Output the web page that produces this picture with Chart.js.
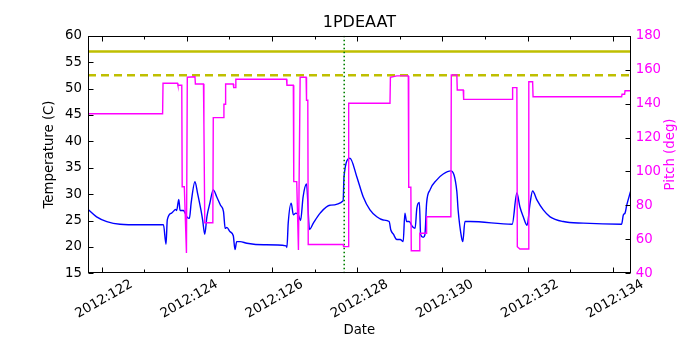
<!DOCTYPE html>
<html>
<head>
<meta charset="utf-8">
<script src="https://cdn.jsdelivr.net/npm/chart.js@4"></script>
<style>
  html, body { margin: 0; padding: 0; background: #fff; }
  #wrap { width: 700px; height: 350px; }
</style>
</head>
<body>
<div id="wrap"><canvas id="c" width="700" height="350"></canvas></div>
<script>
// ---------- data (day of year 2012) ----------
const xMin = 121.678;
const xMax = 134.423;
const xTickDays = [122, 123, 124, 125, 126, 127, 128, 129, 130, 131, 132, 133, 134];
const xTickLabels = ['2012:122', '', '2012:124', '', '2012:126', '', '2012:128', '', '2012:130', '', '2012:132', '', '2012:134'];
const tempTicks = [15, 20, 25, 30, 35, 40, 45, 50, 55, 60];
const pitchTicks = [40, 60, 80, 100, 120, 140, 160, 180];

const tempDays = [121.68, 121.88, 122.12, 122.43, 122.9, 123.45, 123.51, 123.54, 123.64, 123.74, 123.76, 123.81, 123.84, 123.92, 123.96, 124.0, 124.06, 124.1, 124.19, 124.25, 124.33, 124.37, 124.42, 124.47, 124.54, 124.62, 124.7, 124.79, 124.86, 124.9, 124.94, 125.01, 125.09, 125.13, 125.17, 125.25, 125.41, 125.8, 126.33, 126.35, 126.38, 126.45, 126.5, 126.56, 126.62, 126.67, 126.73, 126.81, 126.88, 126.97, 127.13, 127.36, 127.67, 127.69, 127.83, 127.99, 128.14, 128.3, 128.46, 128.61, 128.75, 128.79, 128.85, 128.93, 129.01, 129.08, 129.12, 129.16, 129.22, 129.3, 129.36, 129.4, 129.46, 129.49, 129.55, 129.59, 129.63, 129.71, 129.87, 130.02, 130.2, 130.34, 130.37, 130.45, 130.48, 130.53, 130.65, 131.64, 131.75, 131.82, 131.9, 131.99, 132.06, 132.12, 132.22, 132.37, 132.53, 132.84, 133.31, 134.21, 134.25, 134.29, 134.33, 134.42];
const tempValues = [27.1, 25.7, 24.8, 24.3, 24.2, 24.2, 20.5, 25.1, 26.4, 27.1, 26.9, 29.0, 26.9, 26.9, 26.4, 25.7, 25.4, 28.3, 32.35, 30.2, 27.0, 25.1, 22.4, 25.7, 28.3, 30.8, 29.5, 27.9, 26.7, 23.5, 23.7, 22.9, 22.1, 19.5, 21.0, 21.0, 20.7, 20.4, 20.2, 19.9, 24.5, 28.3, 26.1, 26.4, 26.0, 25.0, 29.5, 31.9, 23.3, 24.5, 26.4, 27.9, 28.75, 33.3, 36.8, 33.3, 29.5, 27.0, 25.7, 25.1, 24.8, 23.2, 22.4, 21.4, 21.4, 21.0, 26.4, 24.8, 24.8, 23.8, 23.5, 27.3, 28.4, 22.3, 21.8, 22.3, 28.3, 30.8, 32.7, 33.8, 34.4, 30.5, 27.0, 21.8, 21.0, 24.8, 24.8, 24.3, 30.2, 27.6, 25.7, 24.1, 28.3, 30.6, 28.9, 27.0, 25.7, 24.8, 24.5, 24.3, 26.05, 26.4, 27.9, 30.5];

const pitchDays = [121.68, 123.43, 123.44, 123.78, 123.79, 123.88, 123.89, 123.94, 123.99, 124.01, 124.19, 124.2, 124.39, 124.4, 124.42, 124.61, 124.62, 124.86, 124.87, 124.9, 124.91, 125.09, 125.1, 125.14, 125.15, 126.34, 126.35, 126.5, 126.51, 126.58, 126.62, 126.66, 126.8, 126.81, 126.84, 126.85, 127.67, 127.68, 127.79, 127.8, 128.77, 128.78, 128.93, 129.2, 129.21, 129.26, 129.27, 129.46, 129.47, 129.62, 129.63, 130.2, 130.21, 130.34, 130.35, 130.49, 130.5, 131.64, 131.65, 131.75, 131.76, 131.82, 132.02, 132.03, 132.12, 132.13, 134.21, 134.22, 134.28, 134.29, 134.42];
const pitchValues = [134, 134, 152, 152, 150.8, 150.8, 91, 91, 52, 155.5, 155.8, 151.5, 151.5, 128, 69.8, 69.8, 131.7, 131.7, 139.6, 139.6, 151.5, 151.5, 149.4, 149.4, 154.3, 154.3, 150.8, 150.8, 94, 94, 53.7, 155.5, 155.5, 142, 142, 57, 57, 55.7, 55.7, 140.2, 140.2, 155.5, 156.3, 156.3, 90.7, 90.7, 53.3, 53.3, 63.6, 63.6, 73.3, 73.3, 156.8, 156.8, 148, 148, 142.5, 142.5, 149.4, 149.4, 55.7, 54.3, 54.3, 152.9, 152.9, 144, 144, 145.5, 145.5, 147.6, 147.6];

const tempLimitHigh = 57;
const tempLimitLow = 52.5;
const markerDay = 127.695;

// ---------- build ----------
const zip = (xs, ys) => xs.map((x, i) => ({ x: x, y: ys[i] }));
const FONT = 'DejaVu Sans';
Chart.defaults.font.family = FONT;
Chart.defaults.font.size = 13.3;
Chart.defaults.color = '#000';

const frameTicks = {
  id: 'frameTicks',
  afterDraw(chart) {
    const { ctx, chartArea: a, scales } = chart;
    ctx.save();
    ctx.strokeStyle = '#000';
    ctx.lineWidth = 1;
    const L = Math.round(a.left) + 0.5, R = Math.round(a.right) - 0.5;
    const T = Math.round(a.top) + 0.5, B = Math.round(a.bottom) - 0.5;
    ctx.beginPath();
    scales.x.ticks.forEach((t, i) => {
      const px = Math.round(scales.x.getPixelForValue(t.value)) + 0.5;
      const len = xTickLabels[i] ? 5 : 3;
      ctx.moveTo(px, B); ctx.lineTo(px, B - len);
      ctx.moveTo(px, T); ctx.lineTo(px, T + len);
    });
    scales.y.ticks.forEach(t => {
      const py = Math.round(scales.y.getPixelForValue(t.value)) + 0.5;
      ctx.moveTo(L, py); ctx.lineTo(L + 5, py);
    });
    scales.y2.ticks.forEach(t => {
      const py = Math.round(scales.y2.getPixelForValue(t.value)) + 0.5;
      ctx.moveTo(R, py); ctx.lineTo(R - 5, py);
    });
    ctx.stroke();
    ctx.strokeRect(L, T, R - L, B - T);
    // right axis title (reads bottom-to-top)
    ctx.fillStyle = '#ff00ff';
    ctx.font = '13.3px "' + FONT + '"';
    ctx.textAlign = 'center';
    ctx.textBaseline = 'middle';
    ctx.translate(671, (a.top + a.bottom) / 2);
    ctx.rotate(-Math.PI / 2);
    ctx.fillText('Pitch (deg)', 0, 0);
    ctx.restore();
  }
};

new Chart(document.getElementById('c'), {
  type: 'line',
  data: {
    datasets: [
      { label: 'Pitch', data: zip(pitchDays, pitchValues), yAxisID: 'y2', borderColor: '#ff00ff', borderWidth: 1.4, pointRadius: 0, order: 0 },
      { label: 'Marker', data: [{ x: markerDay, y: 15 }, { x: markerDay, y: 60 }], yAxisID: 'y', borderColor: '#008000', borderWidth: 1.6, borderDash: [1.5, 2.5], pointRadius: 0, order: 1 },
      { label: 'Limit high', data: [{ x: xMin, y: tempLimitHigh }, { x: xMax, y: tempLimitHigh }], yAxisID: 'y', borderColor: '#bfbf00', borderWidth: 2.6, pointRadius: 0, order: 2 },
      { label: 'Limit low', data: [{ x: xMin, y: tempLimitLow }, { x: xMax, y: tempLimitLow }], yAxisID: 'y', borderColor: '#bfbf00', borderWidth: 2.6, borderDash: [8, 5], pointRadius: 0, order: 2 },
      { label: 'Temperature', data: zip(tempDays, tempValues), yAxisID: 'y', borderColor: '#0000ff', borderWidth: 1.4, pointRadius: 0, cubicInterpolationMode: 'monotone', order: 3 }
    ]
  },
  options: {
    responsive: false,
    animation: false,
    devicePixelRatio: 1,
    layout: { padding: 0 },
    plugins: {
      legend: { display: false },
      tooltip: { enabled: false },
      title: { display: true, text: '1PDEAAT', fullSize: false, color: '#000', font: { size: 16, weight: 'normal' }, padding: { top: 13, bottom: 3.5 } }
    },
    scales: {
      x: {
        type: 'linear', position: 'bottom', min: xMin, max: xMax,
        afterBuildTicks: s => { s.ticks = xTickDays.map(v => ({ value: v })); },
        ticks: { autoSkip: false, maxRotation: 30, minRotation: 30, labelOffset: 30, padding: 3, color: '#000',
                 callback: (v, i) => xTickLabels[i] },
        grid: { display: false, drawTicks: false },
        border: { display: false },
        title: { display: true, text: 'Date', color: '#000', padding: { top: 0, bottom: 11.2 } },
        afterFit: s => { s.height = 76.7; s.paddingLeft = 0; s.paddingRight = 0; }
      },
      y: {
        type: 'linear', position: 'left', min: 15, max: 60,
        afterBuildTicks: s => { s.ticks = tempTicks.map(v => ({ value: v })); },
        ticks: { padding: 6, color: '#000' },
        grid: { display: false, drawTicks: false },
        border: { display: false },
        title: { display: true, text: 'Temperature (C)', color: '#000', padding: { top: 41.5, bottom: 0 } },
        afterFit: s => { s.width = 88; s.paddingTop = 0; s.paddingBottom = 0; }
      },
      y2: {
        type: 'linear', position: 'right', min: 40, max: 180,
        afterBuildTicks: s => { s.ticks = pitchTicks.map(v => ({ value: v })); },
        ticks: { padding: 5, color: '#ff00ff' },
        grid: { display: false, drawTicks: false },
        border: { display: false },
        afterFit: s => { s.width = 69.3; s.paddingTop = 0; s.paddingBottom = 0; }
      }
    }
  },
  plugins: [frameTicks]
});
</script>
</body>
</html>
